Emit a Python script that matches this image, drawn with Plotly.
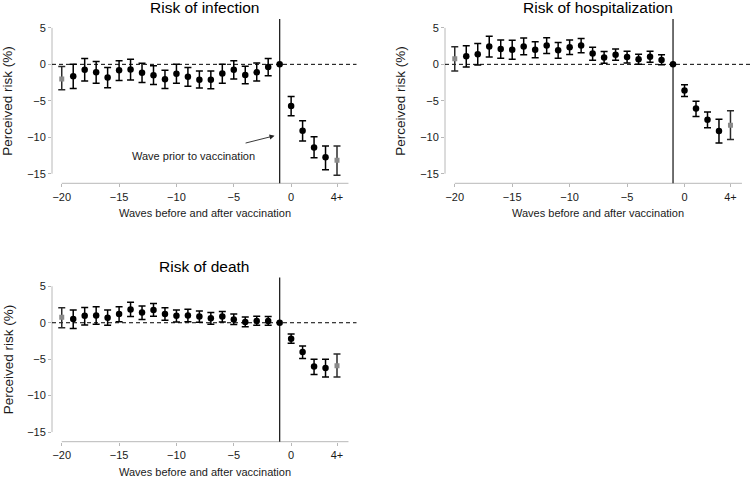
import plotly.graph_objects as go

# ---------------- data ----------------
waves = list(range(-20, 5))  # last wave (4) is labelled "4+"
x_tick_vals = [-20, -15, -10, -5, 0, 4]
x_tick_text = ["\u221220", "\u221215", "\u221210", "\u22125", "0", "4+"]
y_tick_vals = [5, 0, -5, -10, -15]
y_tick_text = ["5", "0", "\u22125", "\u221210", "\u221215"]

infection_est = [-2.0, -1.65, -0.75, -1.1, -1.8, -0.8, -0.7, -1.15, -1.5, -2.05, -1.3, -1.7, -2.1, -2.1,
                 -1.25, -0.75, -1.45, -1.1, -0.35, 0.0, -5.7, -9.1, -11.4, -12.75, -13.15]
infection_hi = [-0.3, 0.0, 0.8, 0.4, -0.45, 0.5, 0.7, 0.15, -0.2, -0.8, 0.0, -0.45, -0.9, -0.9,
                0.0, 0.5, -0.25, 0.2, 0.8, 0.0, -4.4, -7.75, -9.95, -11.2, -11.2]
infection_lo = [-3.5, -3.3, -2.3, -2.6, -3.2, -2.2, -2.15, -2.5, -2.75, -3.3, -2.6, -3.0, -3.25, -3.35,
                -2.6, -2.0, -2.65, -2.3, -1.55, 0.0, -7.05, -10.5, -12.8, -14.45, -15.2]

hosp_est = [0.75, 1.1, 1.4, 2.45, 2.1, 2.0, 2.45, 2.0, 2.6, 1.95, 2.35, 2.6, 1.5, 0.95,
            1.3, 1.0, 0.7, 1.05, 0.6, 0.0, -3.6, -6.05, -7.6, -9.15, -8.35]
hosp_hi = [2.4, 2.55, 2.85, 3.85, 3.35, 3.3, 3.6, 3.1, 3.65, 3.0, 3.35, 3.55, 2.35, 1.75,
           2.1, 1.8, 1.4, 1.8, 1.3, 0.0, -2.8, -5.05, -6.55, -7.55, -6.35]
hosp_lo = [-0.9, -0.35, -0.1, 1.0, 0.85, 0.7, 1.3, 0.9, 1.5, 0.85, 1.35, 1.6, 0.55, 0.15,
           0.55, 0.2, 0.0, 0.3, -0.05, 0.0, -4.4, -7.15, -8.7, -10.8, -10.3]

death_est = [0.75, 0.5, 0.95, 1.0, 0.7, 1.2, 1.8, 1.4, 1.75, 1.2, 0.95, 1.0, 0.85, 0.6,
             0.85, 0.45, 0.1, 0.25, 0.25, 0.0, -2.2, -4.0, -6.0, -6.2, -5.9]
death_hi = [2.05, 1.75, 2.1, 2.2, 1.75, 2.2, 2.8, 2.3, 2.65, 2.05, 1.75, 1.85, 1.6, 1.4,
            1.55, 1.2, 0.8, 0.9, 0.85, 0.0, -1.55, -3.2, -5.0, -5.0, -4.3]
death_lo = [-0.7, -0.8, -0.3, -0.2, -0.35, 0.15, 0.85, 0.45, 0.9, 0.35, 0.1, 0.15, 0.05, -0.2,
            0.1, -0.25, -0.55, -0.35, -0.35, 0.0, -2.8, -4.9, -7.1, -7.45, -7.45]

panel_titles = ["Risk of infection", "Risk of hospitalization", "Risk of death"]
x_title = "Waves before and after vaccination"
y_title = "Perceived risk (%)"
note_text = "Wave prior to vaccination"
reference_wave = -1

# ---------------- layout helpers ----------------
W, H = 750, 477
FONT = "Liberation Sans, Arial, Helvetica, sans-serif"
TXT = "#1a1a1a"
AXC = "#b8b8b8"


def px(x):
    return x / W


def py(y):
    return 1 - y / H


XR = [-20.85, 5.7]
YR = [-16.32, 6.22]
# (left px, right px, top px, bottom px)
panels_px = [(52, 356.5, 19, 183.3), (445, 750, 19, 183.3), (52, 356.5, 277.4, 441.7)]
series = [(infection_est, infection_hi, infection_lo),
          (hosp_est, hosp_hi, hosp_lo),
          (death_est, death_hi, death_lo)]

fig = go.Figure()
layout = dict(width=W, height=H, margin=dict(l=0, r=0, t=0, b=0),
              paper_bgcolor="white", plot_bgcolor="white", showlegend=False,
              font=dict(family=FONT, color=TXT, size=11))
shapes, annotations = [], []

for i, ((l, r, t, b), (est, hi, lo)) in enumerate(zip(panels_px, series)):
    n = "" if i == 0 else str(i + 1)
    xa, ya = "x" + n, "y" + n
    layout["xaxis" + n] = dict(domain=[px(l), px(r)], range=XR, anchor=ya, showgrid=False, zeroline=False,
                               showline=False, tickvals=x_tick_vals, ticktext=x_tick_text, ticks="outside",
                               ticklen=3, tickcolor=AXC, tickwidth=1, tickfont=dict(size=11, color=TXT),
                               fixedrange=True)
    layout["yaxis" + n] = dict(domain=[py(b), py(t)], range=YR, anchor=xa, showgrid=False, zeroline=False,
                               showline=False, tickvals=y_tick_vals, ticktext=y_tick_text, ticks="outside",
                               ticklen=3, tickcolor=AXC, tickwidth=1, tickfont=dict(size=11, color=TXT),
                               ticklabelstandoff=0, fixedrange=True)

    # split points: regular, binned end points (grey), reference wave
    def pick(cond):
        idx = [k for k, w in enumerate(waves) if cond(k, w)]
        return ([waves[k] for k in idx], [est[k] for k in idx],
                [hi[k] - est[k] for k in idx], [est[k] - lo[k] for k in idx])

    last = len(waves) - 1
    xs, ys, ep, em = pick(lambda k, w: w != reference_wave and k not in (0, last))
    fig.add_trace(go.Scatter(x=xs, y=ys, mode="markers", xaxis=xa, yaxis=ya,
                             marker=dict(color="black", size=6.5, symbol="circle"),
                             error_y=dict(type="data", symmetric=False, array=ep, arrayminus=em,
                                          color="black", thickness=1.5, width=3.5)))
    xs, ys, ep, em = pick(lambda k, w: k in (0, last))
    fig.add_trace(go.Scatter(x=xs, y=ys, mode="markers", xaxis=xa, yaxis=ya,
                             marker=dict(color="#8a8a8a", size=5, symbol="square"),
                             error_y=dict(type="data", symmetric=False, array=ep, arrayminus=em,
                                          color="#2a2a2a", thickness=1.5, width=3.5)))
    xs, ys, ep, em = pick(lambda k, w: w == reference_wave)
    fig.add_trace(go.Scatter(x=xs, y=ys, mode="markers", xaxis=xa, yaxis=ya,
                             marker=dict(color="black", size=6.5, symbol="circle")))

    # axis lines (detached, Stata style)
    shapes.append(dict(type="line", xref=xa + " domain", yref=ya, x0=0, x1=0, y0=-15, y1=5,
                       line=dict(color=AXC, width=1), layer="below"))
    shapes.append(dict(type="line", xref=xa, yref=ya + " domain", x0=-20, x1=5, y0=0, y1=0,
                       line=dict(color=AXC, width=1), layer="below"))
    # zero reference (dashed) and vaccination line
    shapes.append(dict(type="line", xref=xa + " domain", yref=ya, x0=0, x1=1, y0=0, y1=0,
                       line=dict(color="black", width=1, dash="4px,3px"), layer="below"))
    shapes.append(dict(type="line", xref=xa, yref=ya + " domain", x0=reference_wave, x1=reference_wave,
                       y0=0, y1=1, line=dict(color="#222222", width=1.3), layer="below"))

    # titles
    cx = (l + r) / 2
    annotations.append(dict(text=panel_titles[i], xref="paper", yref="paper", x=px(cx), y=py(t - 11),
                            xanchor="center", yanchor="middle", showarrow=False,
                            font=dict(size=15.5, color="black", family=FONT)))
    axis_cx = (l + 9.7 + l + 296.5) / 2
    annotations.append(dict(text=x_title, xref="paper", yref="paper", x=px(axis_cx), y=py(b + 30),
                            xanchor="center", yanchor="middle", showarrow=False,
                            font=dict(size=11, color=TXT, family=FONT)))
    annotations.append(dict(text=y_title, xref="paper", yref=ya, x=px(l - 44), y=-5,
                            xanchor="center", yanchor="middle", showarrow=False, textangle=-90,
                            font=dict(size=13.5, color=TXT, family=FONT)))

# note with arrow on first panel
annotations.append(dict(text=note_text, xref="x", yref="y", x=-8.55, y=-12.58, showarrow=False,
                        xanchor="center", yanchor="middle", font=dict(size=11, color=TXT, family=FONT)))
annotations.append(dict(text="", xref="x", yref="y", x=-1.45, y=-9.8, ax=-4.1, ay=-10.85,
                        axref="x", ayref="y", showarrow=True, arrowhead=2, arrowsize=1.1,
                        arrowwidth=0.9, arrowcolor="#222222"))

layout["shapes"] = shapes
layout["annotations"] = annotations
fig.update_layout(**layout)
fig.write_html("out.html", config={"displayModeBar": False, "staticPlot": False})

# remove the browser's default page margin so the figure sits at the window's corner
with open("out.html", "r", encoding="utf-8") as f:
    html = f.read()
html = html.replace("<head>", "<head><style>html,body{margin:0;padding:0;overflow:hidden;}</style>", 1)
with open("out.html", "w", encoding="utf-8") as f:
    f.write(html)
